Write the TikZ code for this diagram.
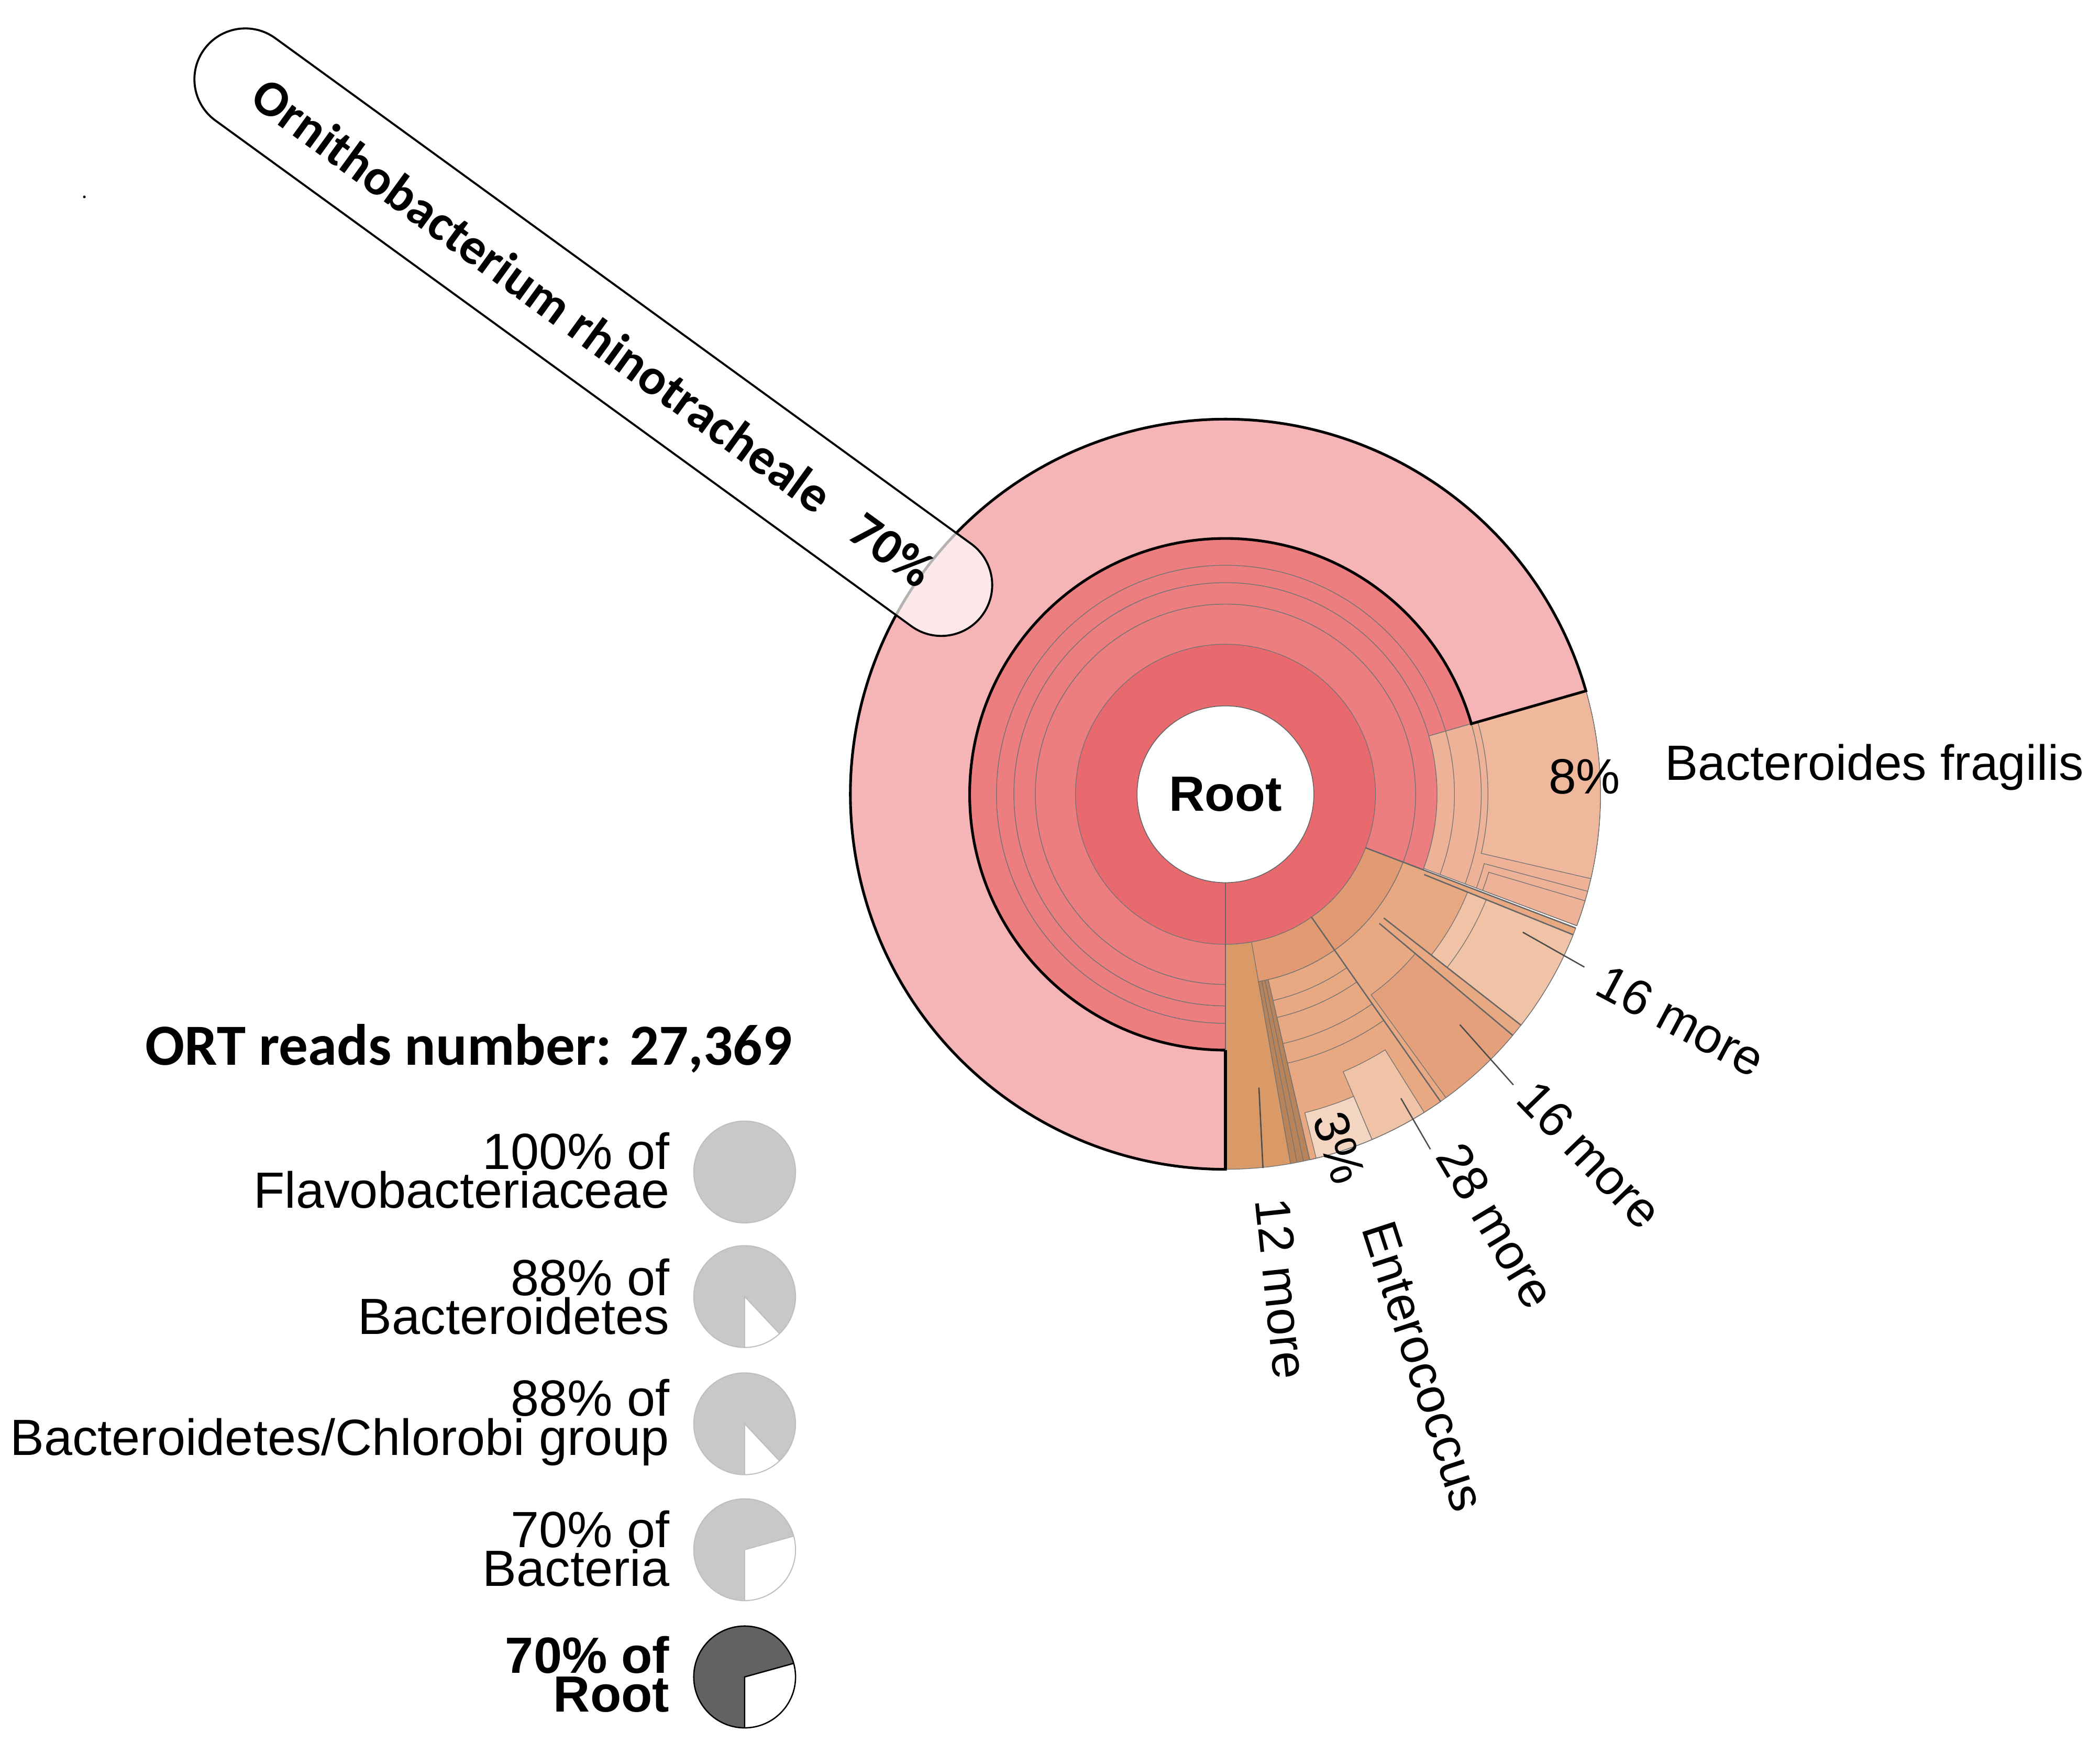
\documentclass[tikz,border=0pt]{standalone}
\usepackage{fontspec}
\setmainfont{Liberation Sans}
\newfontfamily\carl{Carlito}
\usetikzlibrary{shapes.misc}
\definecolor{rA}{HTML}{E8696E}
\definecolor{rB}{HTML}{EC7E80}
\definecolor{rC}{HTML}{F5B5B6}
\definecolor{sA}{HTML}{EDB297}
\definecolor{sB}{HTML}{EFB89C}
\definecolor{oA}{HTML}{E29A73}
\definecolor{oB}{HTML}{D99A68}
\definecolor{oC}{HTML}{E7A882}
\definecolor{oD}{HTML}{F0C3A6}
\definecolor{oE}{HTML}{E4A07A}
\definecolor{pg}{HTML}{C8C8C8}
\definecolor{pd}{HTML}{626262}
\newcommand\wdg[5]{\filldraw[#5] (#1:#3) arc[start angle=#1,end angle=#2,radius=#3] -- (#2:#4) arc[start angle=#2,end angle=#1,radius=#4] -- cycle;}
\tikzset{
  wl/.style={draw=black!55, line width=0.5pt},
  lbl/.style={font=\fontsize{37}{40}\selectfont, inner sep=0pt},
  lead/.style={draw=black!70, line width=1pt},
  leg/.style={font=\fontsize{38}{29}\selectfont, align=right, anchor=east, inner sep=0pt},
  pie/.style={draw=black!25, line width=0.8pt}
}
\begin{document}
\begin{tikzpicture}[x=1pt,y=-1pt]
\useasboundingbox (0,0) rectangle (1568,1301);
\fill (63,147) circle (1);
\begin{scope}[shift={(915,593)}]
  \fill[rA] (0,0) circle (112);
  \wdg{90}{380.9}{112}{142}{fill=rB,wl}
  \wdg{90}{380.9}{142}{158}{fill=rB,wl}
  \wdg{90}{344}{158}{171}{fill=rB,wl}
  \wdg{90}{344}{171}{191}{fill=rB,wl}
  \wdg{344}{380.5}{158}{280}{fill=sA,wl}
  \wdg{344}{380.5}{171}{280}{fill=sA,wl}
  \wdg{344}{380.5}{191}{280}{fill=sA,wl}
  \wdg{344}{373}{196}{280}{fill=sB,wl}
  \wdg{375}{380.5}{200}{280}{fill=sA,wl}
  \wdg{376.5}{380.5}{205}{280}{fill=sA,wl}
  \wdg{90}{344}{191}{280}{fill=rC,draw=black,line width=2pt}
  \wdg{20.9}{90}{112}{142}{fill=oA,wl}
  \wdg{80}{90}{112}{280}{fill=oB,wl}
  \wdg{77}{80}{142}{280}{fill=oB!85!black,wl}
  \draw[wl] (78:142) -- (78:280) (79:142) -- (79:280);
  \wdg{55}{77}{142}{280}{fill=oC,wl}
  \wdg{55}{77}{158}{280}{fill=oC,wl}
  \wdg{55}{77}{171}{280}{fill=oC,wl}
  \wdg{55}{77}{191}{280}{fill=oC,wl}
  \wdg{55}{77}{206}{280}{fill=oC,wl}
  \wdg{58}{67}{225}{280}{fill=oD,wl}
  \wdg{67}{76}{245}{280}{fill=oD!70!white,wl}
  \wdg{20.9}{55}{142}{280}{fill=oC,wl}
  \wdg{40}{54}{185}{280}{fill=oE,wl}
  \wdg{22}{38}{195}{280}{fill=oD,wl}
  \wdg{22}{38}{210}{280}{fill=oD,wl}
  \draw[black!60,line width=1pt] (55:112) -- (55:280) (40:150) -- (40:280) (38:150) -- (38:280) (22:160) -- (22:280) (20.9:112) -- (20.9:280);
  \draw[black!60,line width=0.8pt] (90:66) -- (90:191);
  \draw[black,line width=2pt] (90:191) -- (90:280);
  \node[circle, fill=white, draw=black!60, line width=0.6pt, minimum size=132pt, inner sep=0pt, font=\fontsize{37}{38}\selectfont\bfseries] (root) at (0,0) {Root};
\end{scope}
\node[rounded rectangle, draw=black, line width=1.5pt, fill=white, fill opacity=0.7, text opacity=1, minimum width=725pt, minimum height=76pt, rotate=-36, font=\carl\fontsize{38}{40}\selectfont\bfseries] (ort) at (443,248) {Ornithobacterium rhinotracheale\hspace{28pt}70\%};
\node[lbl] (p8) at (1183,580) {8\%};
\node[lbl, anchor=west] (bf) at (1243,573) {Bacteroides fragilis};
\coordinate (m1a) at (1137,696); \coordinate (m1b) at (1183,722);
\draw[lead] (m1a) -- (m1b);
\node[lbl, rotate=-28] (m1) at (1255,762) {16 more};
\coordinate (m2a) at (1090,765); \coordinate (m2b) at (1130,810);
\draw[lead] (m2a) -- (m2b);
\node[lbl, rotate=-46] (m2) at (1187,862) {16 more};
\coordinate (m3a) at (1046,820); \coordinate (m3b) at (1068,858);
\draw[lead] (m3a) -- (m3b);
\node[lbl, rotate=-59] (m3) at (1117,915) {28 more};
\node[lbl, rotate=-72] (p3) at (1000,857) {3\%};
\node[lbl, rotate=-72] (ent) at (1063,1020) {Enterococcus};
\coordinate (m4a) at (940,812); \coordinate (m4b) at (943,872);
\draw[lead] (m4a) -- (m4b);
\node[lbl, rotate=-84] (m4) at (957,962) {12 more};
\node[font=\carl\fontsize{43.5}{45}\selectfont\bfseries, inner sep=0pt] (title) at (350,783) {ORT reads number: 27,369};
\node[leg] (l1) at (500,874) {100\% of\\Flavobacteriaceae};
\node[leg] (l2) at (500,968) {88\% of\\Bacteroidetes};
\node[leg] (l3) at (500,1062) {88\% of\\Bacteroidetes/Chlorobi group};
\node[leg] (l4) at (500,1156) {70\% of\\Bacteria};
\node[leg, font=\fontsize{38}{29}\selectfont\bfseries] (l5) at (500,1250) {70\% of\\Root};
\fill[pg] (556,875) circle (38); \draw[pie] (556,875) circle (38);
\begin{scope}[shift={(556,968)}]
  \fill[white] (0,0) circle (38); \fill[pg] (0,0) -- (90:38) arc[start angle=90,end angle=406.8,radius=38] -- cycle; \draw[pie] (0,0) circle (38) (90:38) -- (0,0) -- (46.8:38);
\end{scope}
\begin{scope}[shift={(556,1063)}]
  \fill[white] (0,0) circle (38); \fill[pg] (0,0) -- (90:38) arc[start angle=90,end angle=406.8,radius=38] -- cycle; \draw[pie] (0,0) circle (38) (90:38) -- (0,0) -- (46.8:38);
\end{scope}
\begin{scope}[shift={(556,1157)}]
  \fill[white] (0,0) circle (38); \fill[pg] (0,0) -- (90:38) arc[start angle=90,end angle=344.5,radius=38] -- cycle; \draw[pie] (0,0) circle (38) (90:38) -- (0,0) -- (344.5:38);
\end{scope}
\begin{scope}[shift={(556,1252)}]
  \fill[white] (0,0) circle (38); \fill[pd] (0,0) -- (90:38) arc[start angle=90,end angle=344.5,radius=38] -- cycle; \draw[black,line width=1pt] (0,0) circle (38) (90:38) -- (0,0) -- (344.5:38);
\end{scope}
\end{tikzpicture}
\end{document}
